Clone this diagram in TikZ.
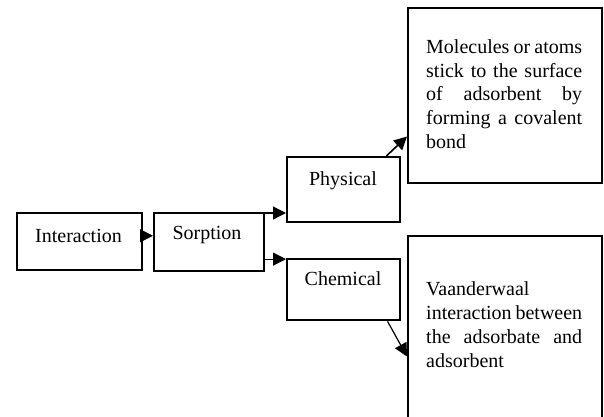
\documentclass[tikz,border=0pt]{standalone}
\usepackage{fontspec}
\setmainfont{Liberation Serif}
\usetikzlibrary{arrows.meta,calc}
\begin{document}
\begin{tikzpicture}[x=1pt,y=-1pt,
  box/.style={draw,line width=2.4pt,inner sep=0pt,anchor=north west},
  arr/.style={line width=1.2pt,-{Triangle[length=13pt,width=13pt]}},
  lbl/.style={font=\fontsize{20}{24}\selectfont,inner sep=0pt,anchor=base},
  para/.style={font=\fontsize{20}{24}\selectfont,inner sep=0pt,anchor=base west}]
\useasboundingbox (0,0) rectangle (604,416);
\clip (0,0) rectangle (604,416);
% boxes
\node[box,minimum width=125pt,minimum height=57pt] (inter) at (16,212) {};
\node[box,minimum width=110pt,minimum height=58pt] (sorp) at (153,212) {};
\node[box,minimum width=113pt,minimum height=65pt] (phys) at (286,156) {};
\node[box,minimum width=113pt,minimum height=61pt] (chem) at (286,258) {};
\node[box,minimum width=194pt,minimum height=175pt] (top) at (407,7) {};
\node[box,minimum width=194pt,minimum height=200pt] (bot) at (407,235) {};
% labels
\node[lbl] (tinter) at (78.5,242) {Interaction};
\node[lbl] (tsorp) at (207,239) {Sorption};
\node[lbl] (tphys) at (343,185) {Physical};
\node[lbl] (tchem) at (343,285) {Chemical};
% paragraph in top box
\node[para] (ta) at (426,53) {\makebox[156pt][s]{Molecules or atoms}};
\node[para] (tb) at (426,77) {\makebox[156pt][s]{stick to the surface}};
\node[para] (tc) at (426,100.5) {\makebox[156pt][s]{of adsorbent by}};
\node[para] (td) at (426,124) {\makebox[156pt][s]{forming a covalent}};
\node[para] (te) at (426,148) {bond};
% paragraph in bottom box
\node[para] (ba) at (426,295) {Vaanderwaal};
\node[para] (bb) at (426,319) {\makebox[156pt][s]{interaction between}};
\node[para] (bc) at (426,343) {\makebox[156pt][s]{the adsorbate and}};
\node[para] (bd) at (426,367) {adsorbent};
% connectors
\coordinate (a1) at ($(inter.north east)!0.4!(inter.south east)$);
\draw[arr] (a1) -- (sorp.west |- a1);
\coordinate (a2) at ($(sorp.north east)+(0,1)$);
\draw[arr] (a2) -- (phys.west |- a2);
\coordinate (a3) at ($(sorp.north east)!0.78!(sorp.south east)$);
\draw[arr] (a3) -- (chem.west |- a3);
\draw[arr,line width=1.6pt] ($(phys.north west)!0.87!(phys.north east)$) -- ($(top.north west)!0.73!(top.south west)$);
\draw[arr] ($(chem.south west)!0.88!(chem.south east)$) -- ($(bot.north west)!0.6!(bot.south west)$);
\end{tikzpicture}
\end{document}
